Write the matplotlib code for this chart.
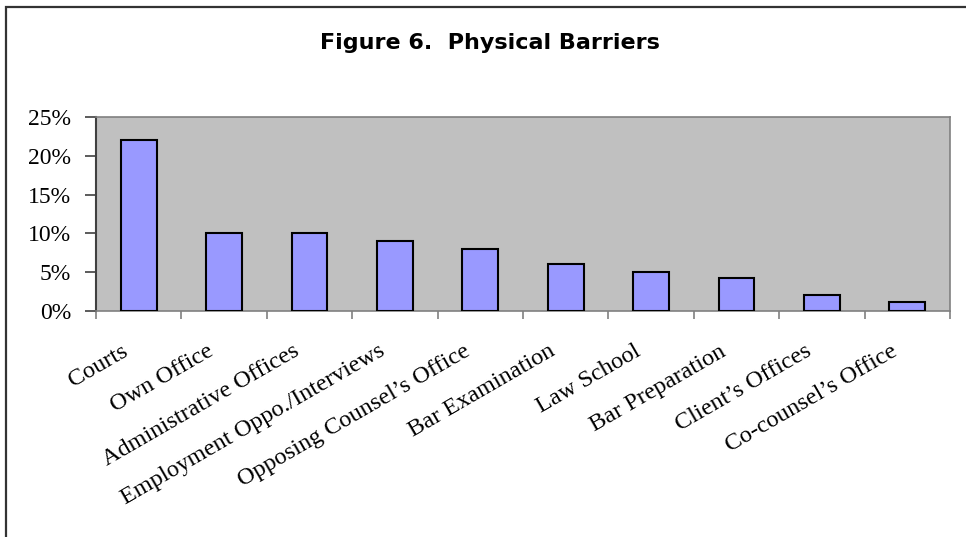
"""
Figure 6. Physical Barriers - Excel-style bar chart recreated in matplotlib.
Output: out.png
"""

import numpy as np
import matplotlib
matplotlib.use("Agg")
import matplotlib.pyplot as plt
from matplotlib.ticker import FuncFormatter, FixedLocator
from matplotlib.transforms import ScaledTranslation
from matplotlib.patches import Rectangle

TITLE = "Figure 6.  Physical Barriers"

categories = [
    "Courts", "Own Office", "Administrative Offices",
    "Employment Oppo./Interviews", "Opposing Counsel\u2019s Office",
    "Bar Examination", "Law School", "Bar Preparation",
    "Client\u2019s Offices", "Co-counsel\u2019s Office",
]
values = [22, 10, 10, 9, 8, 6, 5, 4.2, 2.1, 1.1]   # percent

yticks = [0, 5, 10, 15, 20, 25]

plt.rcParams["font.family"] = ["Liberation Serif", "DejaVu Serif"]

fig = plt.figure(figsize=(9.66, 5.37), dpi=100)
fig.patch.set_facecolor("white")
ax = fig.add_axes([96/966, 1 - 311/537, (950-96)/966, (311-117)/537])
ax.set_facecolor("#c0c0c0")

x = np.arange(len(categories))
ax.bar(x, values, width=0.42, color="#9999ff", edgecolor="black",
       linewidth=1.5, zorder=3)

ax.set_xlim(-0.5, len(categories) - 0.5)
ax.set_ylim(0, 25)
ax.set_yticks(yticks)
ax.yaxis.set_major_formatter(FuncFormatter(lambda v, p: f"{v:.0f}%"))

# category labels on major ticks (no marks), tick marks between categories
ax.set_xticks(x)
ax.set_xticklabels(categories, rotation=30, ha="right", va="center",
                   rotation_mode="anchor", fontsize=17.5)
ax.xaxis.set_minor_locator(FixedLocator(np.arange(-0.5, len(categories), 1.0)))
ax.tick_params(axis="x", which="major", length=0, pad=28)
ax.tick_params(axis="x", which="minor", length=6, width=1.2,
               color="#808080", direction="out")
ax.tick_params(axis="y", length=8, width=1.2, color="#404040",
               direction="out", pad=10, labelsize=17)

shift = ScaledTranslation(-12/100, 0, fig.dpi_scale_trans)
for lab in ax.get_xticklabels():
    lab.set_transform(lab.get_transform() + shift)

for side in ["top", "right", "bottom"]:
    ax.spines[side].set_color("#808080")
    ax.spines[side].set_linewidth(1.2)
ax.spines["left"].set_color("#404040")
ax.spines["left"].set_linewidth(1.5)

fig.text(490/966, 1 - 49/537, TITLE, ha="center", va="baseline",
         fontsize=16, fontweight="bold", family="DejaVu Sans")

# outer chart frame (only top and left edges fall inside the picture)
fig.patches.append(Rectangle((6/966, -0.1), 1.2, 1 - 6.5/537 + 0.1,
                             transform=fig.transFigure, fill=False,
                             edgecolor="#333333", linewidth=1.6))

fig.savefig("out.png", dpi=100, facecolor=fig.get_facecolor())
